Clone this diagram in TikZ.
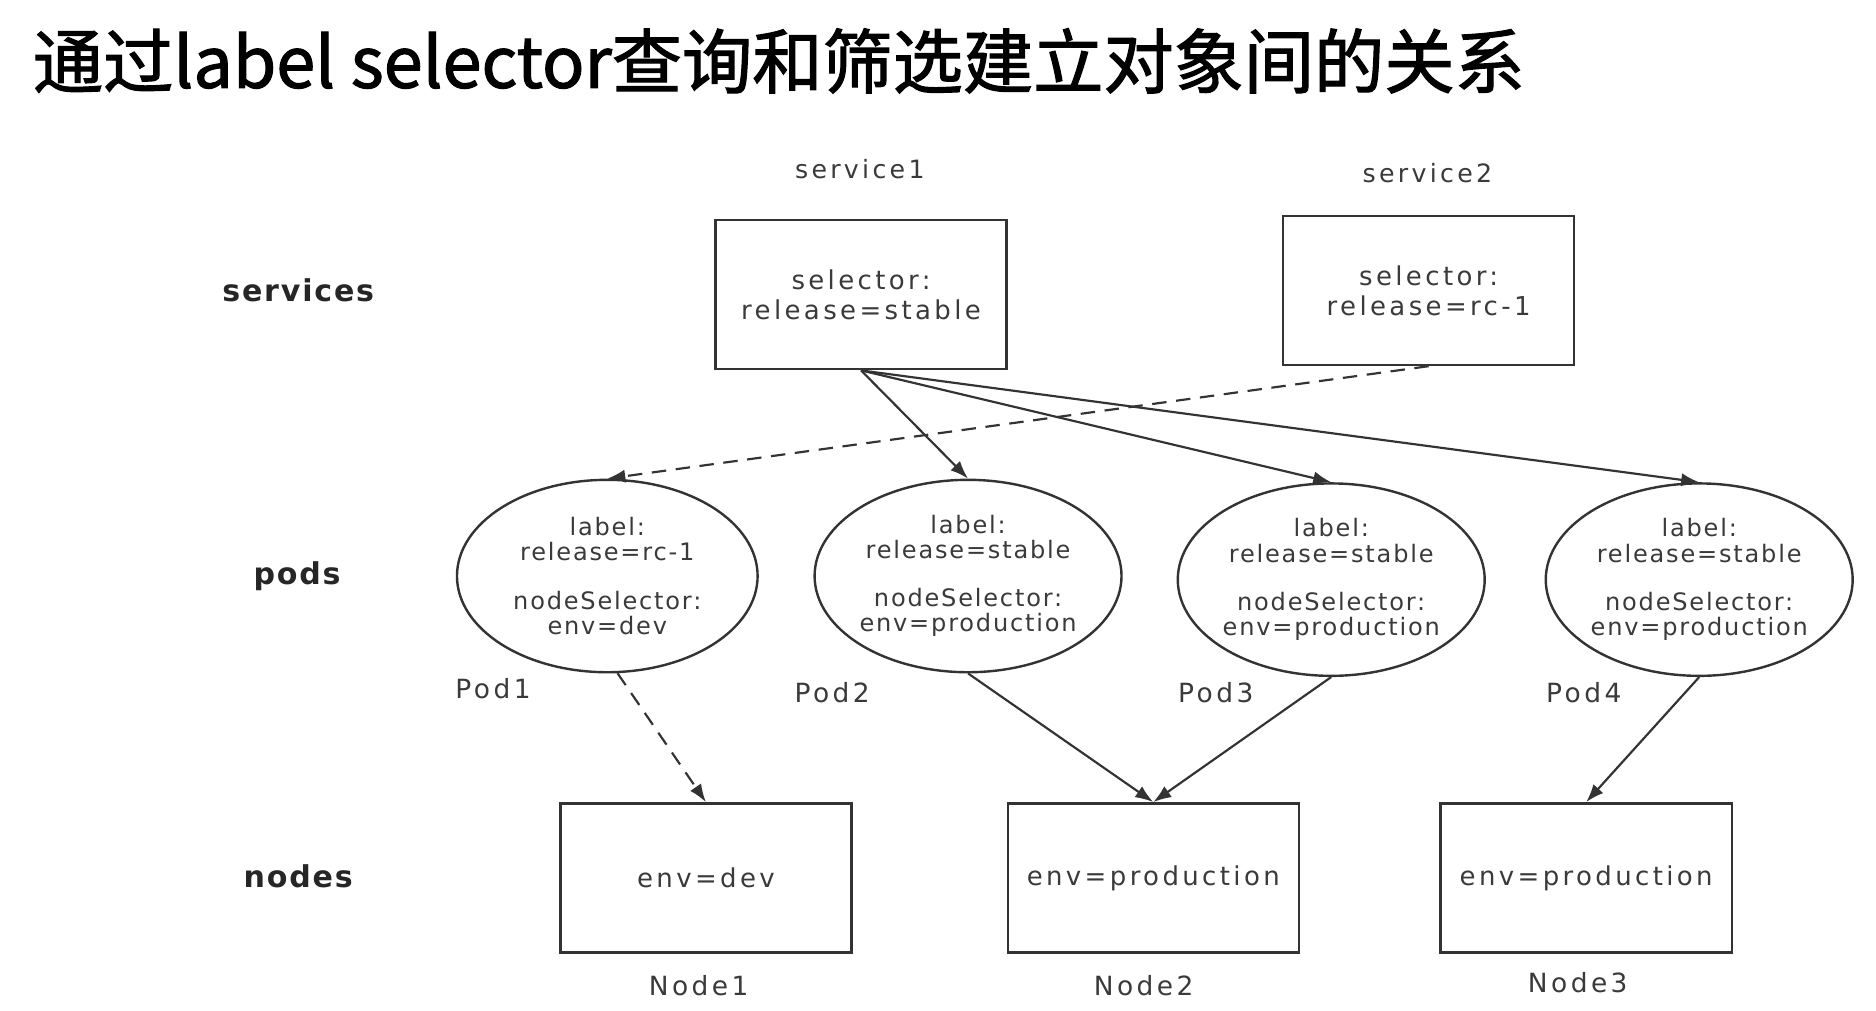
\documentclass[tikz,border=0pt]{standalone}
\usepackage{fontspec}
\usetikzlibrary{arrows.meta,shapes.geometric}
\newfontfamily\cjk{Noto Sans CJK SC}[FakeBold=1.6]
\newfontfamily\djbox{DejaVu Sans}[LetterSpace=13]
\newfontfamily\djpod{DejaVu Sans}[LetterSpace=7.5]
\newfontfamily\djtag{DejaVu Sans}[LetterSpace=13]
\newfontfamily\djlab{DejaVu Sans}[LetterSpace=6]
\definecolor{linec}{HTML}{333333}
\definecolor{txtc}{HTML}{3A3A3A}
\tikzset{
  box/.style={draw=linec, line width=1pt, minimum width=121pt, minimum height=62pt, inner sep=0pt,
    font=\djbox\fontsize{10.8}{12.5}\selectfont, text=txtc, align=center},
  pod/.style={draw=linec, ellipse, line width=1pt, minimum width=125pt, minimum height=80pt, inner sep=0pt,
    font=\djpod\fontsize{10}{10.5}\selectfont, text=txtc, align=center},
  tag/.style={font=\djtag\fontsize{11}{12}\selectfont, text=txtc, inner sep=0pt},
  stag/.style={font=\djtag\fontsize{10.5}{12}\selectfont, text=txtc, inner sep=0pt},
  cat/.style={font=\djlab\bfseries\fontsize{12.5}{14}\selectfont, text=black!85, inner sep=0pt},
  conn/.style={draw=linec, line width=0.9pt, -{Latex[length=7.5pt,width=5.5pt]}},
  dashconn/.style={conn, dash pattern=on 6pt off 4pt}
}
\begin{document}
\begin{tikzpicture}[x=0.5pt, y=-0.5pt]
\useasboundingbox (0,0) rectangle (1560,840);
\node[anchor=base west, inner sep=0pt, font=\cjk\fontsize{29.2}{34}\selectfont] (title) at (27,73) {通过label selector查询和筛选建立对象间的关系};

\node[cat] (lserv) at (248,241) {services};
\node[cat] (lpods) at (247,479) {pods};
\node[cat] (lnodes) at (248,729) {nodes};

\node[box] (s1) at (716,245) {selector:\\release=stable};
\node[box] (s2) at (1188,241.5) {selector:\\release=rc-1};
\node[stag] (s1t) at (715,141) {service1};
\node[stag] (s2t) at (1187,144) {service2};

\node[pod] (p1) at (505,479) {label:\\release=rc-1\\[9.5pt]nodeSelector:\\env=dev};
\node[pod] (p2) at (805,479) {label:\\release=stable\\[9.5pt]nodeSelector:\\env=production};
\node[pod] (p3) at (1107,482) {label:\\release=stable\\[9.5pt]nodeSelector:\\env=production};
\node[pod] (p4) at (1413,482) {label:\\release=stable\\[9.5pt]nodeSelector:\\env=production};
\node[tag] (p1t) at (410,573) {Pod1};
\node[tag] (p2t) at (692,576) {Pod2};
\node[tag] (p3t) at (1011,576) {Pod3};
\node[tag] (p4t) at (1317,576) {Pod4};

\node[box] (n1) at (587,730) {env=dev};
\node[box] (n2) at (959,730) {env=production};
\node[box] (n3) at (1319,730) {env=production};
\node[tag] (n1t) at (581,820) {Node1};
\node[tag] (n2t) at (951,820) {Node2};
\node[tag] (n3t) at (1312,817) {Node3};

\draw[conn] (s1.south) -- (p2.north);
\draw[conn] (s1.south) -- (p3.north);
\draw[conn] (s1.south) -- (p4.north);
\draw[dashconn] (s2.south) -- (p1.north);
\draw[dashconn] (p1.-84) -- (n1.north);
\draw[conn] (p2.south) -- (n2.north);
\draw[conn] (p3.south) -- (n2.north);
\draw[conn] (p4.south) -- (n3.north);
\end{tikzpicture}
\end{document}
